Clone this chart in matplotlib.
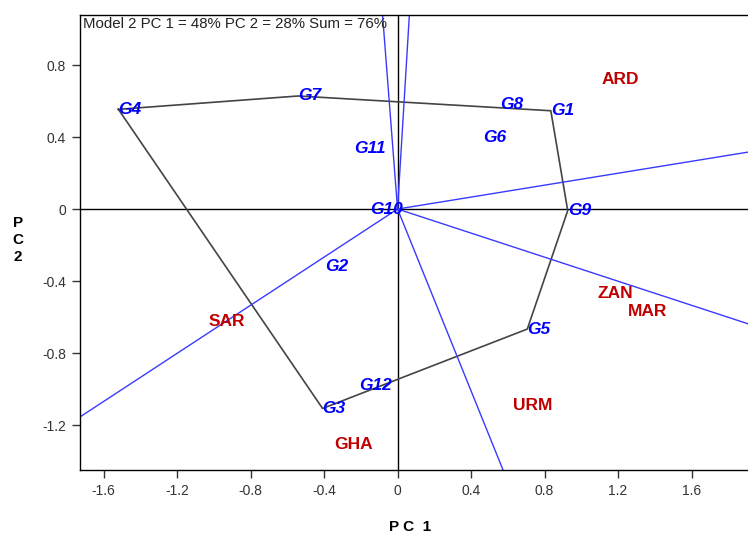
import numpy as np
import matplotlib
matplotlib.use("Agg")
import matplotlib.pyplot as plt

plt.rcParams['font.family'] = ['Liberation Sans', 'DejaVu Sans']

# genotype scores (PC1, PC2)
gen_names = ['G1', 'G2', 'G3', 'G4', 'G5', 'G6', 'G7', 'G8', 'G9', 'G10', 'G11', 'G12']
gen_pc1 = [0.834, -0.395, -0.408, -1.519, 0.706, 0.465, -0.541, 0.558, 0.926, -0.150, -0.237, -0.209]
gen_pc2 = [0.546, -0.317, -1.108, 0.554, -0.667, 0.400, 0.628, 0.583, -0.009, 0.000, 0.339, -0.978]

# environment scores
env_names = ['ARD', 'ZAN', 'MAR', 'URM', 'GHA', 'SAR']
env_pc1 = [1.211, 1.184, 1.363, 0.737, -0.242, -0.930]
env_pc2 = [0.717, -0.467, -0.567, -1.094, -1.311, -0.626]

# polygon (convex hull) vertices in order
hull = ['G4', 'G7', 'G1', 'G9', 'G5', 'G3']

xticks = [-1.6, -1.2, -0.8, -0.4, 0, 0.4, 0.8, 1.2, 1.6]
yticks = [0.8, 0.4, 0, -0.4, -0.8, -1.2]

fig = plt.figure(figsize=(7.48, 5.33), dpi=100)
ax = fig.add_axes([80/748, 63/533, 668/748, 455/533])

ax.axhline(0, color='black', lw=1, zorder=1)
ax.axvline(0, color='black', lw=1, zorder=1)

pts = {n: np.array([x, y]) for n, x, y in zip(gen_names, gen_pc1, gen_pc2)}

# polygon
hx = [pts[n][0] for n in hull] + [pts[hull[0]][0]]
hy = [pts[n][1] for n in hull] + [pts[hull[0]][1]]
ax.plot(hx, hy, color='#444444', lw=1.2, zorder=2)

# rays from origin perpendicular to each side of the polygon
for i in range(len(hull)):
    p = pts[hull[i]]
    q = pts[hull[(i + 1) % len(hull)]]
    d = q - p
    t = -np.dot(p, d) / np.dot(d, d)
    foot = p + t * d
    foot = foot / np.linalg.norm(foot) * 10
    ax.plot([0, foot[0]], [0, foot[1]], color='#3a3aff', lw=1, zorder=2)

for n, x, y in zip(gen_names, gen_pc1, gen_pc2):
    ax.text(x, y, n, color='#0000ff', fontsize=12.5, fontweight='bold',
            fontstyle='italic', ha='left', va='center', zorder=3)

for n, x, y in zip(env_names, env_pc1, env_pc2):
    ax.text(x, y, n, color='#c00000', fontsize=12.5, fontweight='bold',
            ha='center', va='center', zorder=3)

ax.set_xlim(-1.728, 1.907)
ax.set_ylim(-1.45, 1.078)
ax.set_xticks(xticks)
ax.set_xticklabels(['0' if v == 0 else f'{v:g}' for v in xticks])
ax.set_yticks(yticks)
ax.set_yticklabels(['0' if v == 0 else f'{v:g}' for v in yticks])
ax.tick_params(direction='out', length=6, width=1, labelsize=10,
               labelcolor='#333333', color='#333333', pad=4)
ax.spines['right'].set_visible(False)
for s in ['left', 'bottom', 'top']:
    ax.spines[s].set_linewidth(1)

ax.text(0.005, 0.995, 'Model 2 PC 1 = 48% PC 2 = 28% Sum = 76%',
        transform=ax.transAxes, ha='left', va='top', fontsize=10.8, color='#222222')

fig.text(410/748, 1 - 527/533, 'P C  1', ha='center', va='center',
         fontsize=11, fontweight='bold')
fig.text(18/748, 1 - 240/533, 'P\nC\n2', ha='center', va='center',
         fontsize=11, fontweight='bold', linespacing=1.3)

fig.savefig('out.png', dpi=100)
